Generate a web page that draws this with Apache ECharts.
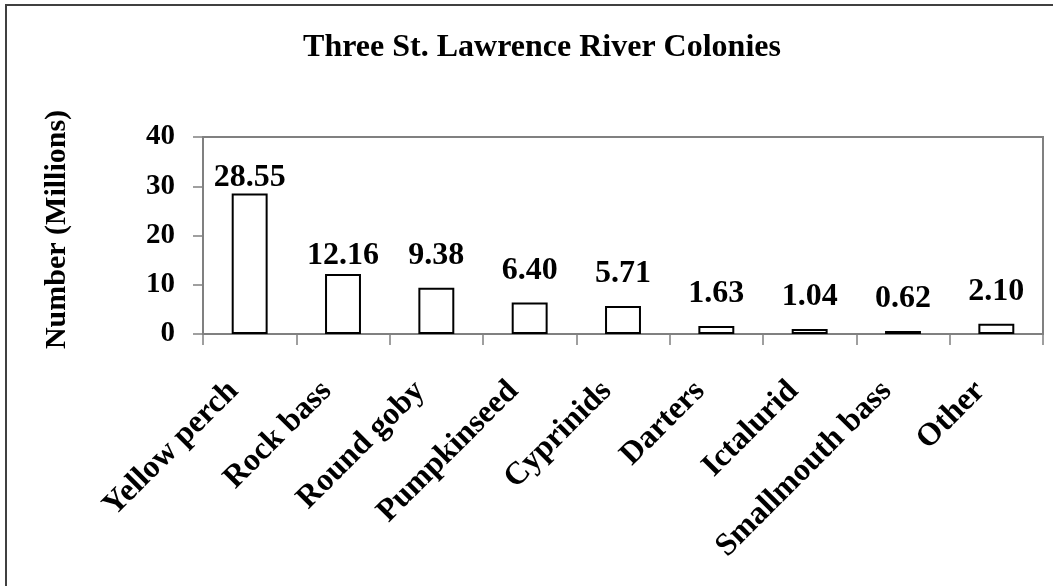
<!DOCTYPE html>
<html>
<head>
<meta charset="utf-8">
<script src="https://cdn.jsdelivr.net/npm/echarts@6/dist/echarts.min.js"></script>
<style>
html,body{margin:0;padding:0;background:#fff;}
#chart{width:1053px;height:586px;}
</style>
</head>
<body>
<div id="chart"></div>
<script>
const titleText = "Three St. Lawrence River Colonies";
const yAxisName = "Number (Millions)";
const categories = ["Yellow perch","Rock bass","Round goby","Pumpkinseed","Cyprinids","Darters","Ictalurid","Smallmouth bass","Other"];
const values = [28.55, 12.16, 9.38, 6.40, 5.71, 1.63, 1.04, 0.62, 2.10];
const yMin = 0, yMax = 40, yStep = 10;

const FONT = "'Liberation Serif','Times New Roman',serif";
const chart = echarts.init(document.getElementById('chart'), null, {renderer:'canvas'});
chart.setOption({
  backgroundColor: '#fff',
  animation: false,
  graphic: [{
    type: 'rect', silent: true, z: -1,
    shape: {x: 6, y: 5, width: 1200, height: 800},
    style: {fill: 'none', stroke: '#404040', lineWidth: 2}
  }],
  title: {
    text: titleText, left: 537, top: 27, textAlign: 'center',
    textStyle: {fontFamily: FONT, fontWeight: 'bold', fontSize: 32, color: '#000'}
  },
  grid: {
    left: 203, right: 10, top: 137, bottom: 252,
    show: true, borderColor: '#808080', borderWidth: 2, backgroundColor: 'transparent',
    containLabel: false
  },
  xAxis: {
    type: 'category', data: categories,
    axisLine: {lineStyle: {color: '#808080', width: 2}},
    axisTick: {show: true, alignWithLabel: false, length: 11, lineStyle: {color: '#808080', width: 1.5}},
    axisLabel: {
      rotate: 45, interval: 0, margin: 36, padding: [0, 23, 18, 0],
      fontFamily: FONT, fontWeight: 'bold', fontSize: 32, color: '#000'
    },
    splitLine: {show: false}
  },
  yAxis: {
    type: 'value', min: yMin, max: yMax, interval: yStep,
    name: yAxisName, nameLocation: 'middle', nameGap: 131, nameRotate: 90,
    nameTextStyle: {fontFamily: FONT, fontWeight: 'bold', fontSize: 30, color: '#000', padding: [0, 0, 0, 12]},
    axisLine: {show: true, lineStyle: {color: '#808080', width: 2}},
    axisTick: {show: true, length: 10, lineStyle: {color: '#808080', width: 1.5}},
    axisLabel: {margin: 28, fontFamily: FONT, fontWeight: 'bold', fontSize: 29, color: '#000'},
    splitLine: {show: false}
  },
  series: [{
    type: 'bar',
    data: values.map((v, i) => ({value: v, label: {distance: i === 0 ? 0 : (i === 1 ? 2 : 16)}})),
    barWidth: '38.5%',
    itemStyle: {color: '#fff', borderColor: '#000', borderWidth: 2},
    label: {
      show: true, position: 'top', distance: 16,
      formatter: p => p.value.toFixed(2),
      fontFamily: FONT, fontWeight: 'bold', fontSize: 32, color: '#000'
    }
  }]
});
</script>
</body>
</html>
